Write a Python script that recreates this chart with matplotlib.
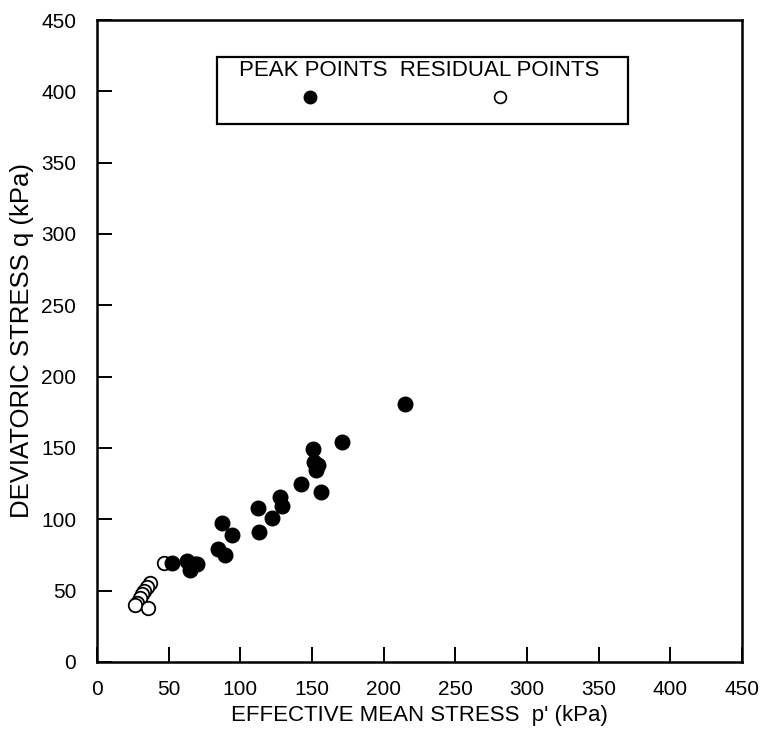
import matplotlib
matplotlib.use('Agg')

import matplotlib.pyplot as plt
from matplotlib.patches import Rectangle

# peak points (filled), p' and q in kPa
peak_p = [215, 171, 150.5, 151.5, 154.5, 153, 156.5, 142.5, 127.5, 129, 112, 122, 113,
          87.5, 94.5, 84.5, 89.5, 52, 62.5, 68.5, 65, 70]
peak_q = [181, 154, 149.5, 140, 138, 134.5, 119, 125, 115.5, 109.5, 108, 101, 91,
          97.5, 89, 79.5, 75, 69.5, 70.5, 69, 64.5, 69]

# residual points (open)
res_p = [47, 37, 34.7, 33, 31.2, 29.8, 27.7, 26.5, 35.4]
res_q = [69.6, 55.6, 52.8, 50, 47.4, 44.6, 41.5, 40, 37.6]

ticks = [0, 50, 100, 150, 200, 250, 300, 350, 400, 450]

plt.rcParams['font.family'] = ['Liberation Sans', 'DejaVu Sans']

fig = plt.figure(figsize=(7.6, 7.3), dpi=100)
ax = fig.add_axes([0.1276, 0.0932, 0.8487, 0.8794])

ax.scatter(res_p, res_q, s=95, facecolors='white', edgecolors='black', linewidths=1.3, zorder=2)
ax.scatter(peak_p, peak_q, s=110, color='black', zorder=3)

ax.set_xlim(0, 450)
ax.set_ylim(0, 450)
ax.set_xticks(ticks)
ax.set_yticks(ticks)
ax.tick_params(direction='in', length=11, width=1.4, labelsize=15, pad=13)
ax.tick_params(axis='y', pad=15)
for s in ax.spines.values():
    s.set_linewidth(1.8)

ax.set_xlabel("EFFECTIVE MEAN STRESS  p' (kPa)", fontsize=16, labelpad=4)
ax.set_ylabel('DEVIATORIC STRESS q (kPa)', fontsize=18.5)
ax.yaxis.set_label_coords(-0.098, 0.5)

# legend box drawn by hand: labels above the markers
ax.add_patch(Rectangle((0.186, 0.838), 0.637, 0.104, transform=ax.transAxes,
                       fill=False, lw=1.6, ec='black', zorder=4))
ax.text(0.5, 0.922, 'PEAK POINTS  RESIDUAL POINTS', transform=ax.transAxes,
        ha='center', va='center', fontsize=16)
ax.plot([0.330], [0.880], 'o', color='black', ms=9, transform=ax.transAxes, clip_on=False)
ax.plot([0.625], [0.880], 'o', mfc='white', mec='black', mew=1.2, ms=8.5,
        transform=ax.transAxes, clip_on=False)

fig.savefig('out.png', dpi=100)
